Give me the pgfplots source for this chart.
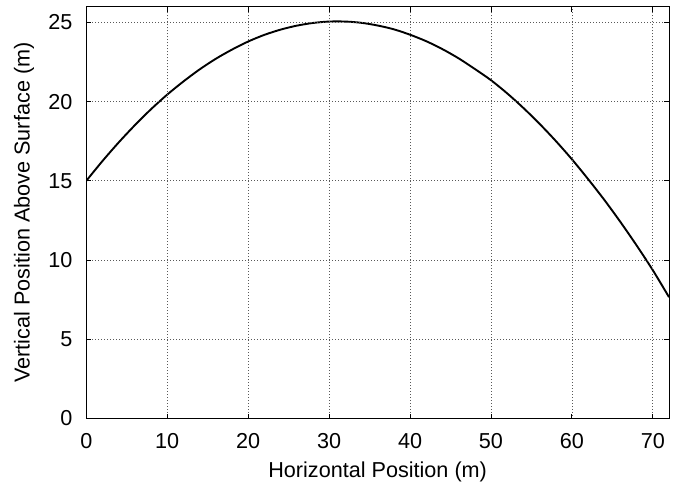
\documentclass[border=0pt]{standalone}
\usepackage{fontspec}
\setmainfont{Liberation Sans}
\usepackage{pgfplots}
\pgfplotsset{compat=1.18}

\begin{document}
\begin{tikzpicture}[font=\fontsize{21.7}{26}\selectfont]
  \begin{axis}[
    name=ax,
    scale only axis,
    width=582.7bp,
    height=412bp,
    xmin=0, xmax=72,
    ymin=0, ymax=26,
    xtick={0,10,...,70},
    ytick={0,5,...,25},
    tick align=inside,
    major tick length=5bp,
    tick style={black, line width=0.8bp},
    axis line style={line width=1bp},
    grid=major,
    major grid style={black!65, line width=0.7bp, dash pattern=on 1bp off 2bp},
    /pgf/number format/assume math mode=true,
    xticklabel style={inner sep=0pt, anchor=north, yshift=-14.2bp},
    yticklabel style={inner sep=0pt, anchor=east, xshift=-13.6bp},
    xlabel={Horizontal Position (m)},
    ylabel={Vertical Position Above Surface (m)},
    xlabel style={at={([yshift=-58.8bp]axis description cs:0.5,0)}, anchor=base, inner sep=0pt},
    ylabel style={at={([xshift=-56.7bp]axis description cs:0,0.5)}, anchor=base, inner sep=0pt},
    axis on top,
  ]
    \addplot[black, line width=1.9bp, smooth] coordinates {
      (0,15.00) (2,16.25) (4,17.42) (6,18.51) (8,19.52) (10,20.44)
      (12,21.27) (14,22.03) (16,22.70) (18,23.28) (20,23.79) (22,24.21)
      (24,24.54) (26,24.79) (28,24.96) (30,25.05) (32,25.05) (34,24.97)
      (36,24.80) (38,24.56) (40,24.22) (42,23.81) (44,23.31) (46,22.73)
      (48,22.06) (50,21.35) (52,20.52) (54,19.60) (56,18.60) (58,17.52)
      (60,16.36) (62,15.11) (64,13.80) (66,12.40) (68,10.92) (70,9.36)
      (72,7.66)
    };
  \end{axis}
  \pgfresetboundingbox
  \useasboundingbox ([xshift=-86.3bp,yshift=-66.5bp]ax.south west)
    rectangle ([xshift=7bp,yshift=6.5bp]ax.north east);
\end{tikzpicture}
\end{document}
